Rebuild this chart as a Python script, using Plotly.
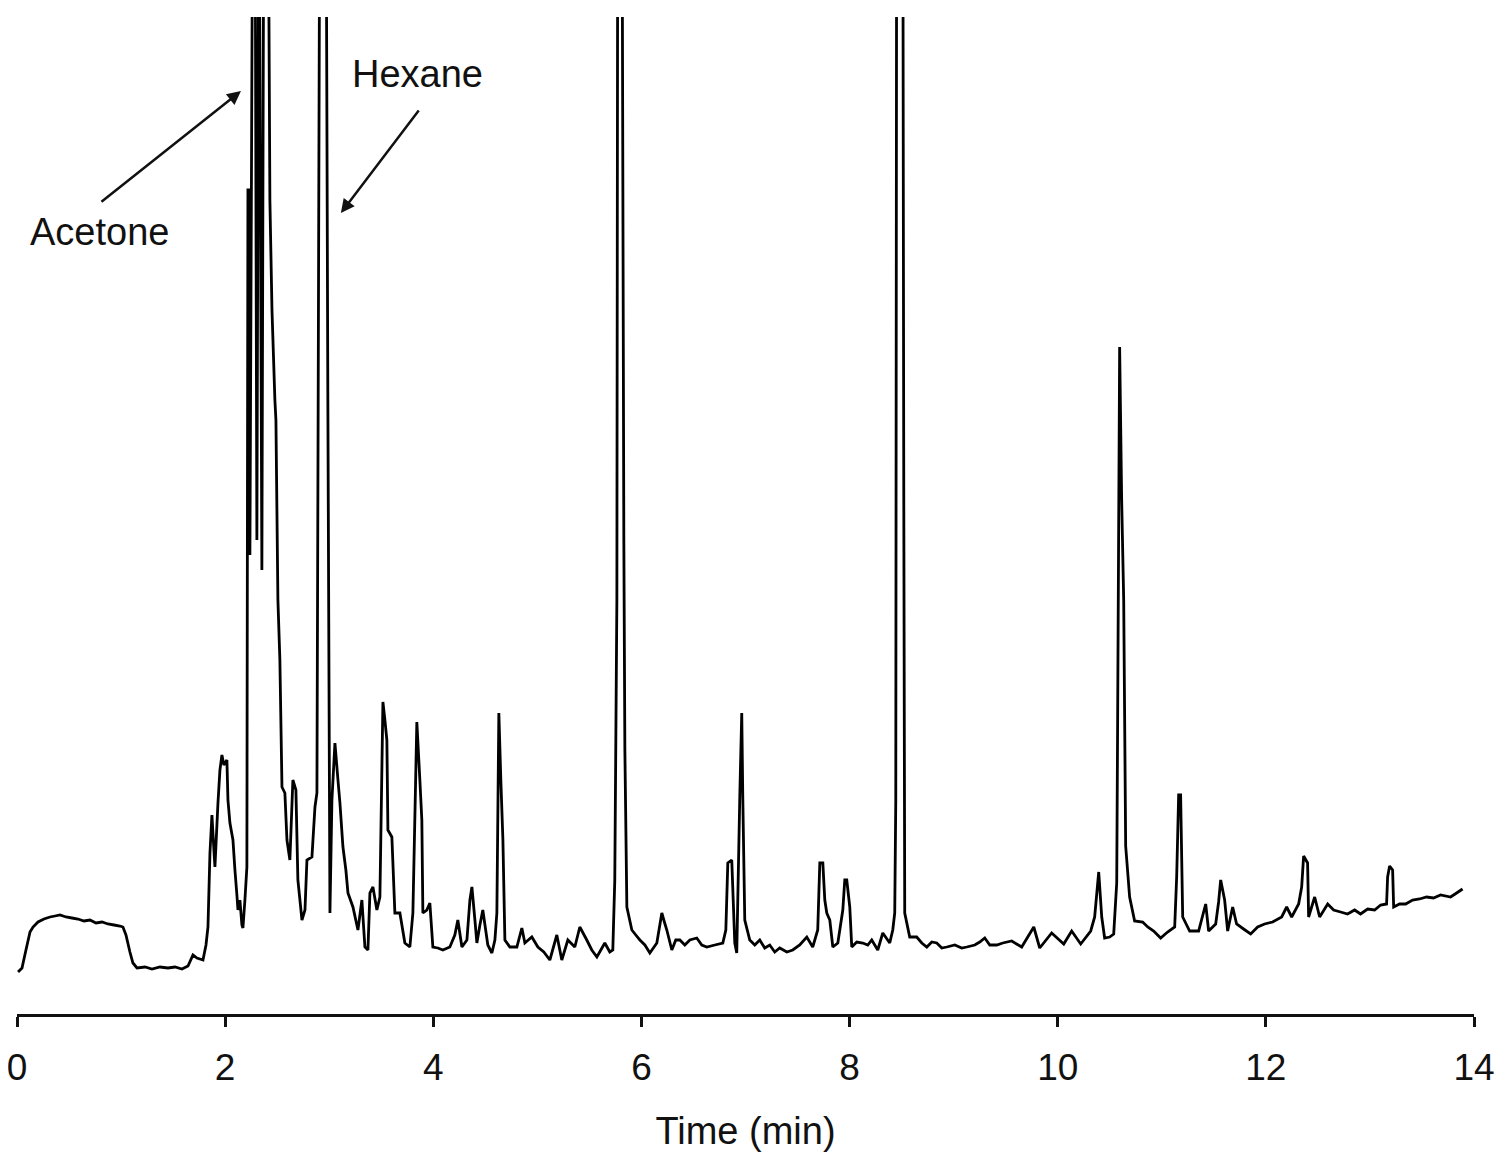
import plotly.graph_objects as go

# Retention time (min)
time_min = [
    0.010, 0.048, 0.086, 0.125, 0.154, 0.202, 0.259, 0.317, 0.365, 0.413,
    0.471, 0.528, 0.586, 0.644, 0.701, 0.759, 0.817, 0.874, 0.932, 0.989,
    1.018, 1.047, 1.085, 1.114, 1.153, 1.230, 1.297, 1.374, 1.450, 1.518,
    1.585, 1.643, 1.691, 1.729, 1.787, 1.816, 1.835, 1.854, 1.873, 1.892,
    1.902, 1.931, 1.950, 1.969, 1.988, 2.017, 2.027, 2.046, 2.075, 2.094,
    2.113, 2.123, 2.142, 2.161, 2.171, 2.190, 2.209, 2.219, 2.229, 2.238,
    2.267, 2.286, 2.305, 2.325, 2.353, 2.373, 2.411, 2.430, 2.450, 2.478,
    2.488, 2.507, 2.526, 2.546, 2.574, 2.594, 2.622, 2.651, 2.680, 2.699,
    2.738, 2.767, 2.786, 2.834, 2.863, 2.882, 2.891, 2.911, 2.968, 2.987,
    3.007, 3.026, 3.055, 3.084, 3.103, 3.132, 3.160, 3.180, 3.228, 3.276,
    3.314, 3.343, 3.372, 3.391, 3.420, 3.458, 3.487, 3.516, 3.535, 3.554,
    3.564, 3.602, 3.631, 3.679, 3.727, 3.775, 3.804, 3.842, 3.871, 3.890,
    3.900, 3.938, 3.967, 3.996, 4.044, 4.092, 4.159, 4.207, 4.236, 4.275,
    4.323, 4.352, 4.371, 4.400, 4.419, 4.448, 4.476, 4.524, 4.563, 4.592,
    4.611, 4.630, 4.649, 4.669, 4.688, 4.736, 4.803, 4.851, 4.880, 4.947,
    5.005, 5.062, 5.120, 5.187, 5.235, 5.293, 5.360, 5.408, 5.475, 5.523,
    5.572, 5.610, 5.648, 5.696, 5.725, 5.744, 5.764, 5.773, 5.812, 5.831,
    5.841, 5.860, 5.908, 5.946, 5.985, 6.033, 6.081, 6.148, 6.196, 6.215,
    6.244, 6.292, 6.330, 6.369, 6.417, 6.465, 6.532, 6.580, 6.628, 6.705,
    6.782, 6.811, 6.830, 6.868, 6.897, 6.916, 6.945, 6.964, 6.974, 6.993,
    7.041, 7.089, 7.137, 7.185, 7.233, 7.281, 7.329, 7.397, 7.454, 7.521,
    7.589, 7.646, 7.694, 7.714, 7.743, 7.762, 7.781, 7.810, 7.839, 7.887,
    7.935, 7.954, 7.973, 8.002, 8.021, 8.069, 8.127, 8.175, 8.213, 8.271,
    8.319, 8.386, 8.415, 8.434, 8.444, 8.453, 8.511, 8.521, 8.530, 8.578,
    8.645, 8.694, 8.742, 8.790, 8.838, 8.886, 8.934, 9.011, 9.078, 9.126,
    9.203, 9.251, 9.299, 9.347, 9.414, 9.472, 9.558, 9.654, 9.770, 9.827,
    9.942, 10.058, 10.134, 10.221, 10.317, 10.355, 10.394, 10.423, 10.451, 10.499,
    10.538, 10.567, 10.576, 10.595, 10.614, 10.634, 10.653, 10.691, 10.739, 10.816,
    10.865, 10.922, 10.989, 11.056, 11.124, 11.143, 11.162, 11.181, 11.201, 11.268,
    11.354, 11.422, 11.450, 11.518, 11.546, 11.566, 11.604, 11.633, 11.681, 11.719,
    11.786, 11.854, 11.921, 11.988, 12.065, 12.152, 12.200, 12.248, 12.315, 12.344,
    12.363, 12.401, 12.411, 12.469, 12.517, 12.594, 12.651, 12.718, 12.785, 12.853,
    12.910, 12.978, 13.045, 13.103, 13.160, 13.170, 13.189, 13.218, 13.228, 13.285,
    13.343, 13.410, 13.477, 13.544, 13.611, 13.679, 13.775, 13.833, 13.890,
]

# Detector signal (arbitrary units); off-scale peaks run past the top of the plot
signal = [
    45, 49, 67, 85, 90, 95, 98, 100, 101, 102,
    100, 99, 98, 96, 97, 94, 95, 93, 92, 91,
    90, 82, 65, 54, 49, 50, 48, 50, 49, 50,
    48, 51, 62, 59, 57, 72, 90, 164, 202, 167,
    150, 214, 247, 262, 252, 257, 217, 194, 177, 147,
    122, 107, 117, 92, 89, 117, 150, 827, 827, 462,
    1200, 1200, 477, 1200, 447, 1200, 1200, 817, 707, 617,
    597, 417, 357, 230, 224, 177, 157, 237, 227, 137,
    97, 107, 157, 160, 210, 224, 517, 1200, 1200, 617,
    104, 217, 274, 237, 214, 170, 147, 124, 110, 87,
    117, 70, 67, 124, 130, 107, 120, 315, 297, 277,
    187, 180, 104, 104, 74, 70, 104, 295, 237, 197,
    104, 107, 114, 70, 69, 67, 70, 82, 97, 70,
    77, 117, 130, 97, 74, 92, 107, 72, 64, 77,
    104, 304, 237, 177, 77, 70, 70, 89, 74, 80,
    70, 65, 57, 82, 57, 77, 70, 90, 77, 67,
    60, 67, 74, 65, 67, 137, 417, 1200, 1200, 477,
    267, 110, 87, 82, 77, 72, 64, 74, 104, 97,
    87, 67, 77, 77, 72, 77, 79, 72, 70, 72,
    74, 87, 154, 157, 74, 64, 220, 304, 220, 97,
    77, 72, 77, 69, 72, 65, 69, 65, 67, 72,
    80, 70, 87, 154, 154, 117, 104, 97, 70, 74,
    107, 137, 137, 110, 70, 75, 74, 72, 77, 67,
    84, 74, 87, 104, 217, 1200, 1200, 517, 104, 80,
    80, 74, 70, 75, 74, 69, 70, 72, 69, 70,
    72, 75, 79, 72, 72, 74, 76, 70, 90, 69,
    84, 73, 86, 73, 86, 100, 145, 100, 79, 80,
    83, 134, 300, 670, 520, 417, 171, 120, 96, 95,
    90, 86, 79, 85, 90, 140, 222, 222, 100, 86,
    86, 113, 86, 93, 115, 137, 117, 86, 110, 93,
    88, 83, 90, 93, 95, 100, 110, 100, 113, 130,
    161, 154, 100, 120, 100, 113, 107, 105, 103, 107,
    103, 108, 107, 112, 113, 140, 151, 147, 110, 113,
    113, 117, 118, 120, 119, 122, 120, 124, 128,
]

x_ticks = [0, 2, 4, 6, 8, 10, 12, 14]

FONT = "Arial, 'Liberation Sans', sans-serif"

fig = go.Figure()
fig.add_trace(go.Scatter(
    x=time_min, y=signal, mode="lines",
    line=dict(color="black", width=2.8, simplify=False),
    hoverinfo="skip", showlegend=False,
))

fig.update_layout(
    width=1495, height=1144,
    margin=dict(l=9, r=29, t=9, b=138, autoexpand=False),
    paper_bgcolor="white", plot_bgcolor="white",
    font=dict(family=FONT, color="#111111"),
    xaxis=dict(
        range=[0, 14], tickvals=x_ticks, ticktext=[str(v) for v in x_ticks],
        automargin=False, ticklabeloverflow="allow",
        showgrid=False, zeroline=False, showline=True, linecolor="#111111",
        linewidth=2.5, ticks="outside", ticklen=10, tickwidth=2.5,
        tickcolor="#111111", tickfont=dict(size=37, family=FONT),
        ticklabelstandoff=9,
        title=dict(text="Time (min)", font=dict(size=38, family=FONT), standoff=32),
    ),
    yaxis=dict(range=[3, 1000], visible=False, showgrid=False, zeroline=False,
               automargin=False),
    annotations=[
        dict(x=2.152, y=926, ax=-141, ay=112, xref="x", yref="y",
             text="", showarrow=True, arrowhead=2, arrowsize=1.1,
             arrowwidth=2.5, arrowcolor="#111111"),
        dict(x=3.112, y=804, ax=79, ay=-104, xref="x", yref="y",
             text="", showarrow=True, arrowhead=2, arrowsize=1.1,
             arrowwidth=2.5, arrowcolor="#111111"),
        dict(x=0.797, y=785, xref="x", yref="y", text="Acetone",
             showarrow=False, font=dict(size=38, family=FONT, color="#111111")),
        dict(x=3.852, y=943, xref="x", yref="y", text="Hexane",
             showarrow=False, font=dict(size=38, family=FONT, color="#111111")),
    ],
)

fig.write_html("out.html")
